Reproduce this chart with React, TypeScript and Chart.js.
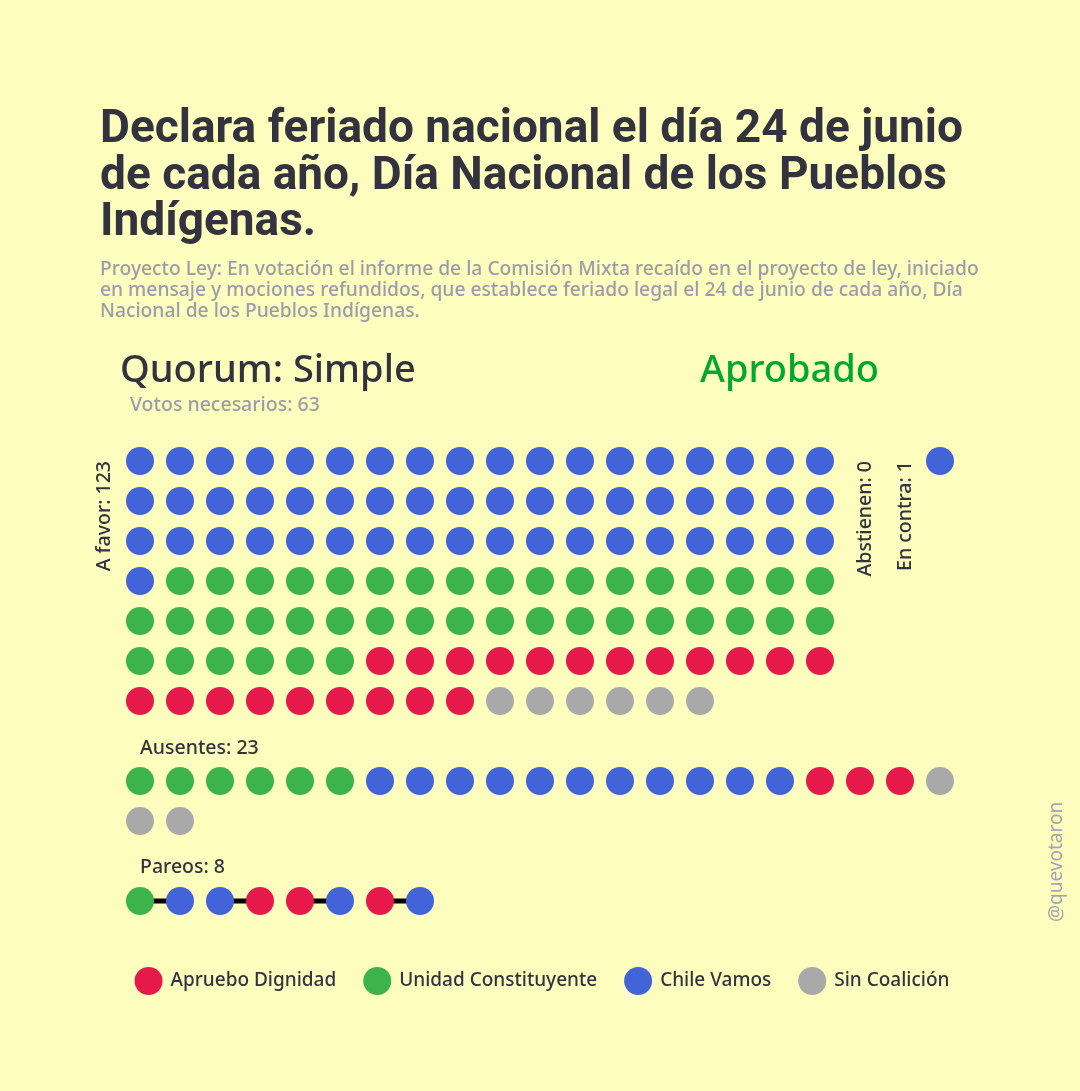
import React, { useEffect, useRef } from "react";
import { Chart, registerables } from "chart.js";

Chart.register(...registerables);

const W = 1080;
const H = 1091;
const BG = "#fdfdbd";
const DARK = "#333340";
const SOFT = "#9c9cac";
const GREEN_OK = "#00a82d";
const FONT = "'Noto Sans', 'DejaVu Sans', sans-serif";
const TITLE_FONT = "Roboto, 'Noto Sans', sans-serif";

// ---- data ----
const parties = ["Apruebo Dignidad", "Unidad Constituyente", "Chile Vamos", "Sin Coalición"];
const partyColors = ["#e6194b", "#3cb44b", "#4363d8", "#a9a9a9"];

const titleLines = [
  "Declara feriado nacional el día 24 de junio",
  "de cada año, Día Nacional de los Pueblos",
  "Indígenas.",
];
const subtitleLines = [
  "Proyecto Ley: En votación el informe de la Comisión Mixta recaído en el proyecto de ley, iniciado",
  "en mensaje y mociones refundidos, que establece feriado legal el 24 de junio de cada año, Día",
  "Nacional de los Pueblos Indígenas.",
];
const quorum = "Simple";
const votosNecesarios = 63;
const resultado = "Aprobado";
const firma = "@quevotaron";

// votes per party (same order as `parties`)
const aFavor = [21, 41, 55, 6];
const abstienen = [0, 0, 0, 0];
const enContra = [0, 0, 1, 0];
const ausentes = [3, 6, 11, 3];
// order in which parties fill each block (indices into `parties`)
const aFavorOrder = [2, 1, 0, 3];
const ausentesOrder = [1, 2, 0, 3];
const contraOrder = [2, 1, 0, 3];
// paired votes (party index of each member)
const pareos = [
  [1, 2],
  [2, 0],
  [0, 2],
  [0, 2],
];

// ---- grid layout (in grid units) ----
const FAVOR_COLS = 18;
const AUSENTES_COLS = 21;
const ROW_FAVOR = 0;
const ROW_AUSENTES = 8;
const ROW_PAREOS = 11;
const ROW_LEGEND = 13;
const COL_ABST = 19;
const COL_CONTRA = 20;

const sum = (a: number[]) => a.reduce((s, v) => s + v, 0);

function expand(counts: number[], order: number[]) {
  const out: number[] = [];
  order.forEach((p) => {
    for (let i = 0; i < counts[p]; i++) out.push(p);
  });
  return out;
}

type Pt = { x: number; y: number };

function buildPoints() {
  const byParty: Pt[][] = parties.map(() => []);
  expand(aFavor, aFavorOrder).forEach((p, i) => {
    byParty[p].push({ x: i % FAVOR_COLS, y: ROW_FAVOR + Math.floor(i / FAVOR_COLS) });
  });
  expand(abstienen, contraOrder).forEach((p, i) => {
    byParty[p].push({ x: COL_ABST, y: ROW_FAVOR + i });
  });
  expand(enContra, contraOrder).forEach((p, i) => {
    byParty[p].push({ x: COL_CONTRA, y: ROW_FAVOR + i });
  });
  expand(ausentes, ausentesOrder).forEach((p, i) => {
    byParty[p].push({ x: i % AUSENTES_COLS, y: ROW_AUSENTES + Math.floor(i / AUSENTES_COLS) });
  });
  pareos.forEach((pair, k) => {
    pair.forEach((p, j) => byParty[p].push({ x: k * 2 + j, y: ROW_PAREOS }));
  });
  return byParty;
}

const labelsPlugin = {
  id: "voteLabels",
  afterDatasetsDraw(chart: any) {
    const { ctx } = chart;
    const xs = chart.scales.x;
    const ys = chart.scales.y;
    ctx.save();
    ctx.fillStyle = DARK;
    ctx.font = `500 19.5px ${FONT}`;
    const rot = (text: string, col: number, row: number) => {
      ctx.save();
      ctx.translate(xs.getPixelForValue(col), ys.getPixelForValue(row));
      ctx.rotate(-Math.PI / 2);
      ctx.textAlign = "right";
      ctx.textBaseline = "middle";
      ctx.fillText(text, 0, 0);
      ctx.restore();
    };
    rot(`A favor: ${sum(aFavor)}`, -0.9, ROW_FAVOR);
    rot(`Abstienen: ${sum(abstienen)}`, 18.125, ROW_FAVOR);
    rot(`En contra: ${sum(enContra)}`, 19.125, ROW_FAVOR);

    ctx.textAlign = "left";
    ctx.textBaseline = "alphabetic";
    ctx.fillText(`Ausentes: ${sum(ausentes)}`, xs.getPixelForValue(0), ys.getPixelForValue(ROW_AUSENTES - 0.675));
    ctx.fillText(`Pareos: ${pareos.length * 2}`, xs.getPixelForValue(0), ys.getPixelForValue(ROW_PAREOS - 0.7));

    // legend
    ctx.font = `500 19px ${FONT}`;
    const r = 14;
    const gapText = 8;
    const gapItem = 27;
    const widths = parties.map((p) => ctx.measureText(p).width);
    const total = sum(widths.map((w) => 2 * r + gapText + w)) + gapItem * (parties.length - 1);
    let x = xs.getPixelForValue(10) + 2 - total / 2;
    const yc = ys.getPixelForValue(ROW_LEGEND);
    parties.forEach((p, i) => {
      ctx.beginPath();
      ctx.fillStyle = partyColors[i];
      ctx.arc(x + r, yc, r, 0, Math.PI * 2);
      ctx.fill();
      ctx.fillStyle = DARK;
      ctx.textBaseline = "middle";
      ctx.fillText(p, x + 2 * r + gapText, yc);
      x += 2 * r + gapText + widths[i] + gapItem;
    });
    ctx.restore();
  },
};

export default function App() {
  const ref = useRef<HTMLCanvasElement>(null);

  useEffect(() => {
    const byParty = buildPoints();
    const lineSets = pareos.map((_, k) => ({
      label: `pareo-${k}`,
      data: [
        { x: k * 2, y: ROW_PAREOS },
        { x: k * 2 + 1, y: ROW_PAREOS },
      ],
      showLine: true,
      borderColor: "#000000",
      borderWidth: 5,
      pointRadius: 0,
      order: 10,
    }));
    const pointSets = parties.map((p, i) => ({
      label: p,
      data: byParty[i],
      backgroundColor: partyColors[i],
      borderWidth: 0,
      pointRadius: 14,
      pointHoverRadius: 14,
      order: 0,
    }));
    const chart = new Chart(ref.current as HTMLCanvasElement, {
      type: "scatter",
      data: { datasets: [...lineSets, ...pointSets] as any },
      options: {
        animation: false,
        responsive: false,
        devicePixelRatio: 1,
        layout: { padding: 0, autoPadding: false },
        plugins: { legend: { display: false }, tooltip: { enabled: false } },
        events: [],
        scales: {
          x: { type: "linear", min: -3.5, max: 23.5, display: false },
          y: { type: "linear", min: -11.525, max: 15.75, reverse: true, display: false },
        },
      },
      plugins: [labelsPlugin],
    });
    return () => chart.destroy();
  }, []);

  return (
    <div
      style={{
        position: "absolute",
        left: 0,
        top: 0,
        width: W,
        height: H,
        background: BG,
        overflow: "hidden",
        fontFamily: FONT,
      }}
    >
      <canvas ref={ref} width={W} height={H} style={{ position: "absolute", left: 0, top: 0 }} />
      <div
        style={{
          position: "absolute",
          left: 100,
          top: 103,
          fontFamily: TITLE_FONT,
          fontSize: 46,
          lineHeight: "46.5px",
          fontWeight: 700,
          color: DARK,
          whiteSpace: "nowrap",
        }}
      >
        {titleLines.map((l, i) => (
          <div key={i}>{l}</div>
        ))}
      </div>
      <div
        style={{
          position: "absolute",
          left: 100,
          top: 257,
          fontSize: 19.25,
          lineHeight: "21px",
          fontWeight: 500,
          color: SOFT,
          whiteSpace: "nowrap",
        }}
      >
        {subtitleLines.map((l, i) => (
          <div key={i}>{l}</div>
        ))}
      </div>
      <div style={{ position: "absolute", left: 120, top: 344, fontSize: 38, lineHeight: "46px", color: DARK, fontWeight: 500, whiteSpace: "nowrap" }}>
        Quorum: {quorum}
      </div>
      <div style={{ position: "absolute", left: 700, top: 344, fontSize: 38, lineHeight: "46px", color: GREEN_OK, fontWeight: 500, whiteSpace: "nowrap" }}>
        {resultado}
      </div>
      <div style={{ position: "absolute", left: 130, top: 393, fontSize: 19.5, lineHeight: "22px", color: SOFT, fontWeight: 500, whiteSpace: "nowrap" }}>
        Votos necesarios: {votosNecesarios}
      </div>
      <div
        style={{
          position: "absolute",
          left: 1046,
          top: 922,
          fontSize: 19,
          lineHeight: "18px",
          color: "#a3a3b3",
          whiteSpace: "nowrap",
          transformOrigin: "0 0",
          transform: "rotate(-90deg)",
        }}
      >
        {firma}
      </div>
    </div>
  );
}
